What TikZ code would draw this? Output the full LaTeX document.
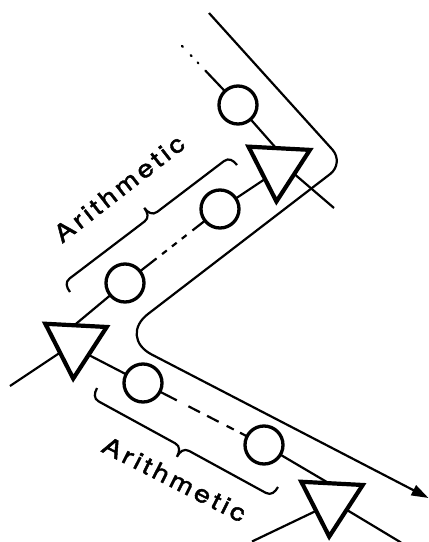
\documentclass[tikz,border=0pt]{standalone}
\usepackage{fontspec}
\setmainfont{TeX Gyre Heros}
\newfontfamily\lblfont[FakeBold=1.8,FakeStretch=1.2]{TeX Gyre Heros}
\usetikzlibrary{shapes.geometric,arrows.meta}
\pgfdeclarelayer{bg}
\pgfsetlayers{bg,main}
\newcommand{\trk}{\kern3.3pt}
\newcommand{\arithword}{A\trk r\trk i\trk t\trk h\trk m\trk e\trk t\trk i\trk c}
\begin{document}
\begin{tikzpicture}[x=1pt,y=1pt,
  wire/.style={line width=2.2pt},
  delay/.style={circle, draw, fill=white, line width=3.3pt, minimum size=38pt, inner sep=0pt},
  amp/.style={regular polygon, regular polygon sides=3, draw, fill=white, line width=4.2pt, minimum size=71pt, inner sep=0pt, rotate=177},
  lbl/.style={inner sep=0pt, anchor=base west, font=\lblfont\fontsize{24}{28}\selectfont}]
\useasboundingbox (0,0) rectangle (429,-542);
\clip (0,0) rectangle (429,-542);

% delay elements
\node[delay] (c1) at (238,-105) {};
\node[delay] (c2) at (220,-209) {};
\node[delay] (c3) at (125,-283) {};
\node[delay] (c4) at (143,-383) {};
\node[delay] (c5) at (264,-445) {};
% amplifiers
\node[amp] (t1) at (278.3,-166) {};
\node[amp] (t2) at (75.1,-343.1) {};
\node[amp] (t3) at (331.1,-501.1) {};

% free ends / entry points
\coordinate (a0) at (182,-46);
\coordinate (t1in) at (283,-156);
\coordinate (t1out) at (292,-172);
\coordinate (a9) at (334,-208);
\coordinate (b0) at (10,-386);
\coordinate (t2in) at (70,-346);
\coordinate (t2out) at (68,-330.5);
\coordinate (t1inb) at (268,-177);
\coordinate (t2outc) at (85,-353);
\coordinate (t3in) at (337,-488);
\coordinate (t3out) at (342,-507);
\coordinate (c9) at (401,-542.5);
\coordinate (d0) at (252,-541.5);
\coordinate (t3ind) at (320,-509);

\begin{pgfonlayer}{bg}
\draw[wire, line cap=round, dash pattern=on 1.2pt off 11.5pt on 1.2pt off 8.7pt on 1.2pt off 10.1pt on 400pt] (a0) -- (c1.center);
\draw[wire] (c1.center) -- (t1in);
\draw[wire] (t1out) -- (a9);
\draw[wire] (b0) -- (t2in);
\draw[wire] (t2out) -- (c3.center);
\draw[wire, dash pattern=on 40pt off 7pt on 6pt off 6.5pt on 6pt off 6.5pt on 6pt off 7.5pt on 200pt] (c3.center) -- (c2.center);
\draw[wire] (c2.center) -- (t1inb);
\draw[wire] (t2outc) -- (c4.center);
\draw[wire, dash pattern=on 38pt off 13pt on 13pt off 8pt on 13pt off 9pt on 8pt off 7pt on 200pt] (c4.center) -- (c5.center);
\draw[wire] (c5.center) -- (t3in);
\draw[wire] (t3out) -- (c9);
\draw[wire] (d0) -- (t3ind);
\end{pgfonlayer}

% boundary with arrow
\coordinate (s0) at (209,-13);
\coordinate (e0) at (428.5,-498);
\draw[wire, -{Triangle[length=17pt,width=11pt]}] (s0) -- (332.4,-149.6) .. controls (339.0,-157.0) and (338.0,-168.0) .. (330.2,-174.0)
  -- (148.1,-313.9) .. controls (131.5,-326.6) and (133.2,-344.9) .. (151.7,-354.5) -- (e0);

% braces
\begin{scope}[shift={(70,-292)}, rotate=37.25]
\draw[wire] (0,0) .. controls (0,6) and (2,11) .. (8,11) -- (102,11) .. controls (108,11) and (110,16) .. (110,22)
  .. controls (110,16) and (112,11) .. (118,11) -- (201.8,11) .. controls (207.8,11) and (209.8,6) .. (209.8,0);
\end{scope}
\begin{scope}[shift={(278,-487)}, rotate=151.32]
\draw[wire] (0,0) .. controls (0,6) and (2,11) .. (8,11) -- (95.2,11) .. controls (101.2,11) and (103.2,16) .. (103.2,22)
  .. controls (103.2,16) and (105.2,11) .. (111.2,11) -- (198.3,11) .. controls (204.3,11) and (206.3,6) .. (206.3,0);
\end{scope}

% labels
\node[lbl, rotate=38] (w1) at (62,-244) {\arithword};
\node[lbl, rotate=-27] (w2) at (100,-451) {\arithword};
\end{tikzpicture}
\end{document}
